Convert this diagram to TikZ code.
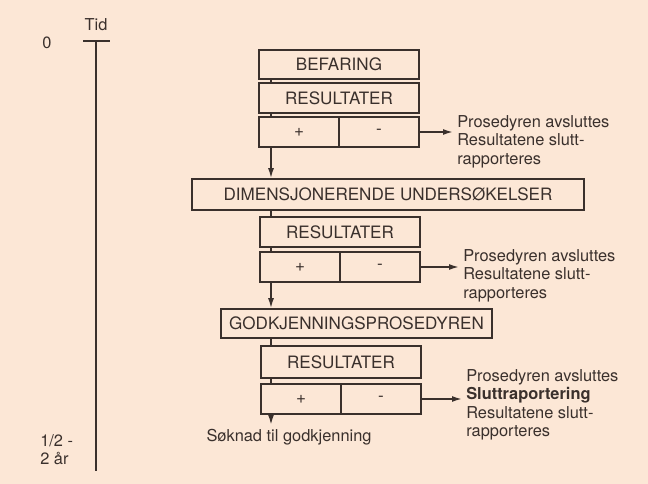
\documentclass[tikz,border=0pt]{standalone}
\usepackage{fontspec}
\setmainfont{TeX Gyre Heros}
\usetikzlibrary{arrows.meta}
\definecolor{bg}{RGB}{252,231,214}
\definecolor{ink}{RGB}{58,48,44}
\begin{document}
\begin{tikzpicture}[x=0.75pt,y=-0.75pt,
  every node/.style={text=ink,font=\fontsize{12.3}{13.8}\selectfont},
  box/.style={draw=ink,line width=1.2pt,inner sep=0pt,minimum height=22.5pt,font=\fontsize{12.8}{14}\selectfont},
  half/.style={box,minimum width=60pt},
  lbl/.style={align=left,inner sep=0pt,anchor=north west},
  ln/.style={draw=ink,line width=1.2pt},
  arr/.style={ln,-{Latex[length=7.5pt,width=4.5pt]}}]
\useasboundingbox (0,0) rectangle (648,484);
\fill[bg] (0,0) rectangle (648,484);
% time axis
\node (tid) at (96,25) {Tid};
\node (zero) at (47,43) {0};
\coordinate (tl) at (83,41);
\coordinate (tr) at (110,41);
\coordinate (t0) at (96,41);
\coordinate (tend) at (96,471);
\draw[ln] (tl) -- (tr);
\draw[ln] (t0) -- (tend);
\node[lbl] (span) at (40,434) {1/2 -\\2 år};
% spine
\coordinate (sp) at (271,0);
% block 1
\node[box,minimum width=120pt,minimum height=21.75pt] (bef) at (339,64.5) {BEFARING};
\node[box,minimum width=120pt] (r1) at (339,98) {RESULTATER};
\node[half] (p1a) at (299,132) {+};
\node[half] (p1b) at (379,132) {-};
\node[lbl] (t1) at (457,115) {Prosedyren avsluttes\\Resultatene slutt-\\rapporteres};
% block 2
\node[box,minimum width=294pt,minimum height=23.25pt] (dim) at (388,194.5) {DIMENSJONERENDE UNDERSØKELSER};
\node[box,minimum width=120pt] (r2) at (340,232) {RESULTATER};
\node[half] (p2a) at (300,267) {+};
\node[half] (p2b) at (380,267) {-};
\node[lbl] (t2) at (463,249) {Prosedyren avsluttes\\Resultatene slutt-\\rapporteres};
% block 3
\node[box,minimum width=203.25pt,minimum height=21.75pt] (godk) at (356.5,323.5) {GODKJENNINGSPROSEDYREN};
\node[box,minimum width=120pt,minimum height=24pt] (r3) at (341,362) {RESULTATER};
\node[half] (p3a) at (301,399) {+};
\node[half] (p3b) at (381,399) {-};
\node[lbl] (t3) at (466,369) {Prosedyren avsluttes\\\textbf{Sluttraportering}\\Resultatene slutt-\\rapporteres};
\node[inner sep=0pt] (sok) at (289,437) {Søknad til godkjenning};
% vertical connectors
\draw[ln] (bef.south -| sp) -- (r1.north -| sp);
\draw[ln] (r1.south -| sp) -- (p1a.north -| sp);
\draw[arr] (p1a.south -| sp) -- (dim.north -| sp);
\draw[ln] (dim.south -| sp) -- (r2.north -| sp);
\draw[ln] (r2.south -| sp) -- (p2a.north -| sp);
\draw[arr] (p2a.south -| sp) -- (godk.north -| sp);
\draw[ln] (godk.south -| sp) -- (r3.north -| sp);
\draw[ln] (r3.south -| sp) -- (p3a.north -| sp);
\draw[arr] (p3a.south -| sp) -- ([yshift=3pt]sok.north -| sp);
% side arrows
\draw[arr,shorten >=3pt] (p1b.east) -- (p1b.east -| t1.west);
\draw[arr,shorten >=3pt] (p2b.east) -- (p2b.east -| t2.west);
\draw[arr,shorten >=3pt] (p3b.east) -- (p3b.east -| t3.west);
\end{tikzpicture}
\end{document}
